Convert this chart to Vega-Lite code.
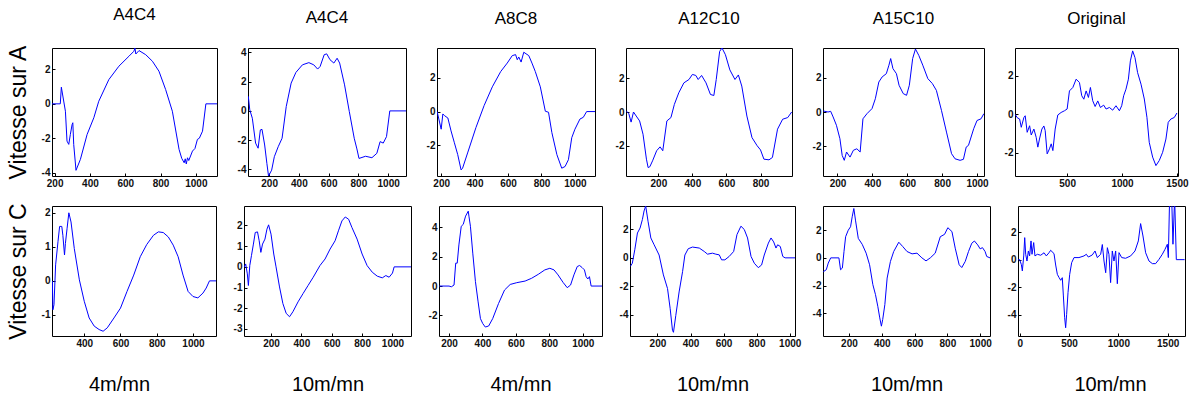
{
"$schema": "https://vega.github.io/schema/vega-lite/v6.json",
"background": "white",
"padding": {"left": 6, "top": 5, "right": 0, "bottom": 0},
"datasets": {
"a1": [{"x":185,"y":0},{"x":232,"y":0},{"x":238,"y":0.97},{"x":261,"y":-0.43},{"x":270,"y":-2.17},{"x":280,"y":-2.36},{"x":289,"y":-1.78},{"x":299,"y":-1.2},{"x":303,"y":-1.1},{"x":308,"y":-2.36},{"x":321,"y":-3.87},{"x":346,"y":-3.23},{"x":384,"y":-1.78},{"x":422,"y":-0.81},{"x":450,"y":0.15},{"x":507,"y":1.41},{"x":564,"y":2.19},{"x":621,"y":2.77},{"x":649,"y":3.06},{"x":655,"y":3.25},{"x":660,"y":2.9},{"x":678,"y":3.1},{"x":716,"y":2.86},{"x":754,"y":2.48},{"x":791,"y":1.9},{"x":829,"y":0.83},{"x":867,"y":-0.43},{"x":905,"y":-2.65},{"x":920,"y":-3.17},{"x":934,"y":-3.43},{"x":940,"y":-3.2},{"x":946,"y":-3.5},{"x":953,"y":-3.14},{"x":960,"y":-3.3},{"x":981,"y":-2.75},{"x":995,"y":-2.6},{"x":1009,"y":-2.07},{"x":1020,"y":-2.0},{"x":1038,"y":-1.59},{"x":1057,"y":0},{"x":1120,"y":0}],
"a2": [{"x":60,"y":1.0},{"x":70,"y":0.07},{"x":87,"y":-0.5},{"x":109,"y":-2.2},{"x":126,"y":-2.55},{"x":141,"y":-1.3},{"x":152,"y":-1.26},{"x":170,"y":-2.33},{"x":185,"y":-3.6},{"x":196,"y":-4.45},{"x":217,"y":-4.05},{"x":235,"y":-3.13},{"x":261,"y":-2.45},{"x":287,"y":-1.87},{"x":315,"y":0.3},{"x":348,"y":1.9},{"x":380,"y":2.63},{"x":424,"y":3.15},{"x":467,"y":3.3},{"x":500,"y":3.15},{"x":526,"y":2.86},{"x":543,"y":3.04},{"x":570,"y":3.84},{"x":587,"y":3.9},{"x":609,"y":3.5},{"x":635,"y":3.27},{"x":657,"y":3.6},{"x":674,"y":3.27},{"x":707,"y":1.78},{"x":739,"y":-0.05},{"x":772,"y":-1.87},{"x":790,"y":-2.6},{"x":804,"y":-3.25},{"x":848,"y":-3.1},{"x":891,"y":-3.2},{"x":924,"y":-2.9},{"x":946,"y":-2.1},{"x":967,"y":-2.2},{"x":989,"y":-1.76},{"x":1011,"y":0},{"x":1120,"y":0}],
"a3": [{"x":176,"y":0},{"x":186,"y":-0.44},{"x":200,"y":-1.04},{"x":210,"y":-0.14},{"x":220,"y":-0.24},{"x":240,"y":-0.38},{"x":259,"y":-1.14},{"x":279,"y":-1.84},{"x":299,"y":-2.54},{"x":319,"y":-3.44},{"x":328,"y":-3.34},{"x":358,"y":-2.44},{"x":408,"y":-0.94},{"x":457,"y":0.36},{"x":506,"y":1.46},{"x":556,"y":2.36},{"x":595,"y":2.86},{"x":625,"y":3.3},{"x":645,"y":3.36},{"x":655,"y":3.06},{"x":664,"y":3.22},{"x":678,"y":2.92},{"x":694,"y":3.5},{"x":724,"y":3.3},{"x":743,"y":2.86},{"x":763,"y":2.36},{"x":793,"y":1.46},{"x":823,"y":0.02},{"x":842,"y":-0.04},{"x":862,"y":-1.24},{"x":892,"y":-2.54},{"x":921,"y":-3.34},{"x":941,"y":-3.24},{"x":961,"y":-2.84},{"x":981,"y":-1.54},{"x":1000,"y":-1.04},{"x":1030,"y":-0.44},{"x":1050,"y":-0.34},{"x":1070,"y":0},{"x":1120,"y":0}],
"a4": [{"x":12,"y":0.05},{"x":26,"y":-0.08},{"x":40,"y":-0.6},{"x":54,"y":0},{"x":70,"y":-0.24},{"x":90,"y":-0.53},{"x":110,"y":-1.32},{"x":130,"y":-2.8},{"x":140,"y":-3.3},{"x":150,"y":-3.25},{"x":166,"y":-2.9},{"x":190,"y":-2.3},{"x":210,"y":-2.07},{"x":226,"y":-2.3},{"x":250,"y":-0.53},{"x":274,"y":-0.33},{"x":294,"y":0.45},{"x":320,"y":1.14},{"x":350,"y":1.73},{"x":380,"y":1.93},{"x":400,"y":2.23},{"x":420,"y":2.17},{"x":434,"y":1.93},{"x":454,"y":2.17},{"x":480,"y":1.73},{"x":506,"y":1.04},{"x":526,"y":0.98},{"x":540,"y":1.93},{"x":560,"y":3.6},{"x":574,"y":3.8},{"x":594,"y":3.4},{"x":620,"y":2.5},{"x":650,"y":1.93},{"x":670,"y":2.2},{"x":690,"y":1.54},{"x":720,"y":-0.24},{"x":750,"y":-1.52},{"x":780,"y":-2.0},{"x":800,"y":-2.25},{"x":820,"y":-2.8},{"x":850,"y":-2.84},{"x":870,"y":-2.7},{"x":900,"y":-1.02},{"x":930,"y":-0.43},{"x":960,"y":-0.33},{"x":983,"y":0}],
"a5": [{"x":119,"y":0.06},{"x":146,"y":0},{"x":161,"y":0.04},{"x":175,"y":-0.29},{"x":194,"y":-0.78},{"x":214,"y":-1.57},{"x":227,"y":-2.55},{"x":239,"y":-2.84},{"x":252,"y":-2.35},{"x":272,"y":-2.65},{"x":291,"y":-2.25},{"x":311,"y":-2.16},{"x":330,"y":-2.35},{"x":346,"y":-0.4},{"x":369,"y":-0.1},{"x":398,"y":0.2},{"x":417,"y":0.78},{"x":437,"y":1.76},{"x":456,"y":2.06},{"x":480,"y":2.25},{"x":495,"y":2.75},{"x":505,"y":3.14},{"x":518,"y":2.55},{"x":538,"y":2.25},{"x":553,"y":1.57},{"x":577,"y":1.08},{"x":596,"y":0.98},{"x":612,"y":1.57},{"x":631,"y":3.14},{"x":647,"y":3.7},{"x":666,"y":3.33},{"x":689,"y":2.75},{"x":718,"y":1.96},{"x":744,"y":1.67},{"x":767,"y":1.27},{"x":796,"y":0.1},{"x":825,"y":-1.18},{"x":854,"y":-2.45},{"x":874,"y":-2.75},{"x":903,"y":-2.84},{"x":922,"y":-2.78},{"x":938,"y":-2.06},{"x":951,"y":-1.96},{"x":981,"y":-0.98},{"x":1000,"y":-0.5},{"x":1023,"y":-0.4},{"x":1039,"y":-0.1}],
"a6": [{"x":27,"y":0},{"x":45,"y":-0.17},{"x":67,"y":-0.24},{"x":82,"y":-0.67},{"x":106,"y":-0.16},{"x":118,"y":-0.07},{"x":136,"y":-0.93},{"x":158,"y":-0.59},{"x":173,"y":-1.07},{"x":197,"y":-0.76},{"x":218,"y":-1.19},{"x":233,"y":-1.7},{"x":248,"y":-1.28},{"x":270,"y":-0.76},{"x":288,"y":-0.6},{"x":300,"y":-0.84},{"x":318,"y":-2.05},{"x":339,"y":-1.79},{"x":355,"y":-1.53},{"x":370,"y":-1.88},{"x":391,"y":-0.76},{"x":415,"y":-0.03},{"x":445,"y":0.1},{"x":476,"y":0.19},{"x":500,"y":0.28},{"x":521,"y":1.22},{"x":552,"y":1.4},{"x":582,"y":1.83},{"x":612,"y":1.66},{"x":633,"y":0.97},{"x":652,"y":0.79},{"x":673,"y":1.22},{"x":694,"y":0.88},{"x":712,"y":1.4},{"x":733,"y":0.71},{"x":755,"y":0.41},{"x":779,"y":0.7},{"x":803,"y":0.36},{"x":833,"y":0.48},{"x":855,"y":0.28},{"x":885,"y":0.36},{"x":915,"y":0.22},{"x":945,"y":0.45},{"x":976,"y":0.19},{"x":997,"y":0.45},{"x":1015,"y":0.97},{"x":1036,"y":1.31},{"x":1058,"y":1.83},{"x":1076,"y":2.78},{"x":1097,"y":3.3},{"x":1118,"y":2.95},{"x":1142,"y":2.17},{"x":1173,"y":1.57},{"x":1203,"y":0.8},{"x":1227,"y":-0.15},{"x":1248,"y":-1.45},{"x":1279,"y":-2.22},{"x":1309,"y":-2.66},{"x":1339,"y":-2.4},{"x":1370,"y":-1.97},{"x":1400,"y":-1.28},{"x":1421,"y":-0.41},{"x":1445,"y":-0.24},{"x":1476,"y":-0.16},{"x":1500,"y":0.07}],
"c1": [{"x":224,"y":0},{"x":227,"y":-0.85},{"x":233,"y":-0.7},{"x":242,"y":0.47},{"x":255,"y":1.15},{"x":264,"y":1.6},{"x":276,"y":1.6},{"x":282,"y":1.34},{"x":291,"y":0.76},{"x":296,"y":1.1},{"x":305,"y":1.53},{"x":315,"y":2.0},{"x":327,"y":1.73},{"x":345,"y":0.95},{"x":373,"y":0.03},{"x":400,"y":-0.6},{"x":427,"y":-1.09},{"x":455,"y":-1.33},{"x":482,"y":-1.43},{"x":504,"y":-1.48},{"x":527,"y":-1.38},{"x":564,"y":-1.09},{"x":600,"y":-0.8},{"x":636,"y":-0.31},{"x":673,"y":0.17},{"x":709,"y":0.71},{"x":745,"y":1.07},{"x":782,"y":1.34},{"x":809,"y":1.44},{"x":836,"y":1.42},{"x":864,"y":1.29},{"x":891,"y":1.05},{"x":918,"y":0.71},{"x":945,"y":0.17},{"x":973,"y":-0.31},{"x":1000,"y":-0.46},{"x":1027,"y":-0.5},{"x":1055,"y":-0.36},{"x":1073,"y":-0.21},{"x":1091,"y":0},{"x":1127,"y":0}],
"c2": [{"x":24,"y":0},{"x":33,"y":0.14},{"x":44,"y":-0.34},{"x":51,"y":-0.9},{"x":60,"y":0.06},{"x":71,"y":0.54},{"x":84,"y":1.1},{"x":96,"y":1.66},{"x":111,"y":1.69},{"x":122,"y":1.26},{"x":133,"y":0.7},{"x":144,"y":1.1},{"x":160,"y":1.34},{"x":173,"y":1.82},{"x":184,"y":2.03},{"x":200,"y":1.58},{"x":218,"y":0.62},{"x":233,"y":0},{"x":256,"y":-0.97},{"x":278,"y":-1.77},{"x":300,"y":-2.25},{"x":322,"y":-2.41},{"x":344,"y":-2.17},{"x":378,"y":-1.69},{"x":411,"y":-1.29},{"x":444,"y":-0.9},{"x":478,"y":-0.5},{"x":522,"y":0.06},{"x":556,"y":0.38},{"x":589,"y":0.86},{"x":622,"y":1.26},{"x":644,"y":1.74},{"x":667,"y":2.22},{"x":689,"y":2.41},{"x":711,"y":2.3},{"x":733,"y":1.9},{"x":767,"y":1.34},{"x":800,"y":0.62},{"x":833,"y":0.06},{"x":867,"y":-0.26},{"x":900,"y":-0.45},{"x":933,"y":-0.53},{"x":956,"y":-0.42},{"x":978,"y":-0.5},{"x":1000,"y":-0.3},{"x":1011,"y":0},{"x":1122,"y":0}],
"c3": [{"x":142,"y":0},{"x":200,"y":0},{"x":214,"y":-0.05},{"x":230,"y":0.07},{"x":240,"y":1.56},{"x":249,"y":1.56},{"x":259,"y":2.8},{"x":273,"y":4.07},{"x":285,"y":4.2},{"x":299,"y":4.76},{"x":315,"y":5.1},{"x":319,"y":4.76},{"x":328,"y":4.07},{"x":342,"y":2.24},{"x":358,"y":0.3},{"x":374,"y":-1.08},{"x":388,"y":-2.22},{"x":402,"y":-2.56},{"x":417,"y":-2.79},{"x":437,"y":-2.72},{"x":461,"y":-2.22},{"x":496,"y":-1.19},{"x":532,"y":-0.27},{"x":566,"y":0.11},{"x":605,"y":0.23},{"x":655,"y":0.34},{"x":694,"y":0.53},{"x":734,"y":0.8},{"x":773,"y":1.1},{"x":803,"y":1.21},{"x":828,"y":1.1},{"x":852,"y":0.76},{"x":882,"y":0.25},{"x":907,"y":-0.11},{"x":927,"y":0.07},{"x":947,"y":0.76},{"x":967,"y":1.33},{"x":981,"y":1.4},{"x":996,"y":1.26},{"x":1010,"y":1.1},{"x":1020,"y":0.64},{"x":1030,"y":0.48},{"x":1040,"y":0.64},{"x":1050,"y":0},{"x":1115,"y":0}],
"c4": [{"x":36,"y":-0.6},{"x":48,"y":-0.38},{"x":63,"y":0.57},{"x":79,"y":1.75},{"x":95,"y":2.1},{"x":109,"y":2.7},{"x":119,"y":3.3},{"x":129,"y":3.65},{"x":143,"y":2.58},{"x":160,"y":1.4},{"x":180,"y":0.92},{"x":210,"y":0.2},{"x":236,"y":-1.2},{"x":261,"y":-2.16},{"x":277,"y":-3.58},{"x":291,"y":-5.1},{"x":297,"y":-5.24},{"x":311,"y":-4.05},{"x":331,"y":-2.4},{"x":352,"y":-0.97},{"x":366,"y":0.2},{"x":386,"y":0.64},{"x":412,"y":0.76},{"x":453,"y":0.69},{"x":483,"y":0.45},{"x":503,"y":0.26},{"x":533,"y":0.33},{"x":553,"y":0.26},{"x":574,"y":0.21},{"x":588,"y":-0.14},{"x":608,"y":-0.14},{"x":634,"y":0.1},{"x":661,"y":0.45},{"x":681,"y":1.64},{"x":705,"y":2.23},{"x":725,"y":2.0},{"x":745,"y":1.4},{"x":766,"y":0.1},{"x":786,"y":-0.38},{"x":810,"y":-0.69},{"x":830,"y":-0.5},{"x":846,"y":0.2},{"x":871,"y":1.04},{"x":887,"y":1.4},{"x":903,"y":1.12},{"x":917,"y":0.69},{"x":927,"y":0.92},{"x":943,"y":0.8},{"x":958,"y":0.1},{"x":972,"y":0},{"x":1032,"y":0}],
"c5": [{"x":44,"y":-1.0},{"x":62,"y":-0.86},{"x":74,"y":-0.38},{"x":89,"y":0},{"x":139,"y":0},{"x":149,"y":-0.86},{"x":160,"y":-0.74},{"x":170,"y":0.46},{"x":180,"y":1.53},{"x":196,"y":2.0},{"x":210,"y":2.25},{"x":220,"y":2.97},{"x":230,"y":3.57},{"x":240,"y":2.73},{"x":257,"y":1.41},{"x":281,"y":0.98},{"x":305,"y":0.34},{"x":326,"y":-0.5},{"x":346,"y":-1.94},{"x":362,"y":-2.66},{"x":376,"y":-3.5},{"x":388,"y":-4.34},{"x":398,"y":-4.94},{"x":406,"y":-4.46},{"x":419,"y":-3.38},{"x":433,"y":-1.46},{"x":453,"y":-0.26},{"x":473,"y":0.46},{"x":504,"y":1.13},{"x":528,"y":0.82},{"x":554,"y":0.46},{"x":585,"y":0.29},{"x":615,"y":0.34},{"x":645,"y":0},{"x":670,"y":-0.22},{"x":696,"y":0},{"x":726,"y":0.34},{"x":757,"y":1.53},{"x":783,"y":1.7},{"x":803,"y":2.18},{"x":828,"y":1.9},{"x":848,"y":0.7},{"x":872,"y":-0.5},{"x":888,"y":-0.7},{"x":909,"y":-0.26},{"x":929,"y":0.46},{"x":949,"y":1.06},{"x":965,"y":1.22},{"x":985,"y":0.94},{"x":1000,"y":0.65},{"x":1014,"y":0.74},{"x":1030,"y":0.46},{"x":1040,"y":0.1},{"x":1060,"y":0}],
"c6": [{"x":-15,"y":0},{"x":0,"y":0},{"x":17,"y":-0.36},{"x":27,"y":-0.82},{"x":41,"y":0.27},{"x":51,"y":1.6},{"x":61,"y":0.39},{"x":74,"y":-0.1},{"x":88,"y":0.63},{"x":101,"y":0.27},{"x":115,"y":1.36},{"x":125,"y":0.39},{"x":142,"y":1.24},{"x":155,"y":0.27},{"x":179,"y":0.39},{"x":213,"y":0.32},{"x":247,"y":0.5},{"x":270,"y":0.27},{"x":297,"y":0.5},{"x":314,"y":0.68},{"x":348,"y":0.44},{"x":365,"y":-0.39},{"x":382,"y":-1.07},{"x":399,"y":-1.3},{"x":416,"y":-1.5},{"x":432,"y":-1.31},{"x":443,"y":-2.64},{"x":456,"y":-4.22},{"x":466,"y":-4.95},{"x":476,"y":-3.98},{"x":490,"y":-2.4},{"x":507,"y":-1.07},{"x":527,"y":-0.22},{"x":551,"y":0.15},{"x":601,"y":0.15},{"x":652,"y":0.27},{"x":676,"y":0.39},{"x":696,"y":0.19},{"x":736,"y":0.34},{"x":764,"y":0.63},{"x":787,"y":0.15},{"x":821,"y":0.39},{"x":838,"y":1.1},{"x":855,"y":-0.1},{"x":872,"y":-0.95},{"x":889,"y":0.87},{"x":905,"y":0.39},{"x":922,"y":-1.67},{"x":939,"y":0.63},{"x":956,"y":-0.1},{"x":973,"y":0.63},{"x":990,"y":-1.75},{"x":1007,"y":0.51},{"x":1034,"y":0.15},{"x":1074,"y":0.1},{"x":1125,"y":0.27},{"x":1169,"y":0.63},{"x":1203,"y":1.36},{"x":1226,"y":2.62},{"x":1250,"y":1.72},{"x":1277,"y":0.5},{"x":1311,"y":-0.1},{"x":1345,"y":-0.29},{"x":1378,"y":-0.29},{"x":1412,"y":0.02},{"x":1446,"y":0.39},{"x":1473,"y":0.75},{"x":1497,"y":1.12},{"x":1507,"y":0.15},{"x":1520,"y":4.5},{"x":1541,"y":4.5},{"x":1554,"y":1.12},{"x":1571,"y":4.5},{"x":1588,"y":0},{"x":1672,"y":0}]
},
"vconcat": [
{"hconcat": [
{"width":165,"height":128,"title":"A4C4","data":{"name":"a1"},"mark":{"type":"line","color":"#0000ff","strokeWidth":1,"clip":true},
 "encoding":{"x":{"field":"x","type":"quantitative","scale":{"domain":[185,1120],"nice":false,"zero":false},"axis":{"values":[200,400,600,800,1000],"title":null}},
 "y":{"field":"y","type":"quantitative","scale":{"domain":[-4.2,3.25],"nice":false,"zero":false},"axis":{"values":[-4,-2,0,2],"title":"Vitesse sur A","minExtent":18,"maxExtent":18}}}},
{"width":158,"height":128,"title":"A4C4","data":{"name":"a2"},"mark":{"type":"line","color":"#0000ff","strokeWidth":1,"clip":true},
 "encoding":{"x":{"field":"x","type":"quantitative","scale":{"domain":[58,1120],"nice":false,"zero":false},"axis":{"values":[200,400,600,800,1000],"title":null}},
 "y":{"field":"y","type":"quantitative","scale":{"domain":[-4.45,4.3],"nice":false,"zero":false},"axis":{"values":[-4,-2,0,2,4],"title":null}}}},
{"width":158,"height":128,"title":"A8C8","data":{"name":"a3"},"mark":{"type":"line","color":"#0000ff","strokeWidth":1,"clip":true},
 "encoding":{"x":{"field":"x","type":"quantitative","scale":{"domain":[175,1120],"nice":false,"zero":false},"axis":{"values":[200,400,600,800,1000],"title":null}},
 "y":{"field":"y","type":"quantitative","scale":{"domain":[-3.8,3.75],"nice":false,"zero":false},"axis":{"values":[-2,0,2],"title":null}}}},
{"width":166,"height":128,"title":"A12C10","data":{"name":"a4"},"mark":{"type":"line","color":"#0000ff","strokeWidth":1,"clip":true},
 "encoding":{"x":{"field":"x","type":"quantitative","scale":{"domain":[10,985],"nice":false,"zero":false},"axis":{"values":[200,400,600,800],"title":null}},
 "y":{"field":"y","type":"quantitative","scale":{"domain":[-3.8,3.8],"nice":false,"zero":false},"axis":{"values":[-2,0,2],"title":null}}}},
{"width":161,"height":128,"title":"A15C10","data":{"name":"a5"},"mark":{"type":"line","color":"#0000ff","strokeWidth":1,"clip":true},
 "encoding":{"x":{"field":"x","type":"quantitative","scale":{"domain":[117,1040],"nice":false,"zero":false},"axis":{"values":[200,400,600,800,1000],"title":null}},
 "y":{"field":"y","type":"quantitative","scale":{"domain":[-3.76,3.76],"nice":false,"zero":false},"axis":{"values":[-2,0,2],"title":null}}}},
{"width":163,"height":128,"title":"Original","data":{"name":"a6"},"mark":{"type":"line","color":"#0000ff","strokeWidth":1,"clip":true},
 "encoding":{"x":{"field":"x","type":"quantitative","scale":{"domain":[25,1510],"nice":false,"zero":false},"axis":{"values":[500,1000,1500],"title":null}},
 "y":{"field":"y","type":"quantitative","scale":{"domain":[-3.2,3.45],"nice":false,"zero":false},"axis":{"values":[-2,0,2],"title":null}}}}
], "spacing": 31, "bounds": "flush"},
{"hconcat": [
{"width":164,"height":130,"data":{"name":"c1"},"mark":{"type":"line","color":"#0000ff","strokeWidth":1,"clip":true},
 "encoding":{"x":{"field":"x","type":"quantitative","scale":{"domain":[222,1127],"nice":false,"zero":false},"axis":{"values":[400,600,800,1000],"title":"4m/mn","titleX":67,"titleAlign":"center"}},
 "y":{"field":"y","type":"quantitative","scale":{"domain":[-1.62,2.2],"nice":false,"zero":false},"axis":{"values":[-1,0,1,2],"title":"Vitesse sur C","minExtent":18,"maxExtent":18}}}},
{"width":167,"height":130,"data":{"name":"c2"},"mark":{"type":"line","color":"#0000ff","strokeWidth":1,"clip":true},
 "encoding":{"x":{"field":"x","type":"quantitative","scale":{"domain":[22,1122],"nice":false,"zero":false},"axis":{"values":[200,400,600,800,1000],"title":"10m/mn"}},
 "y":{"field":"y","type":"quantitative","scale":{"domain":[-3.34,2.94],"nice":false,"zero":false},"axis":{"values":[-3,-2,-1,0,1,2],"title":null}}}},
{"width":163,"height":130,"data":{"name":"c3"},"mark":{"type":"line","color":"#0000ff","strokeWidth":1,"clip":true},
 "encoding":{"x":{"field":"x","type":"quantitative","scale":{"domain":[140,1115],"nice":false,"zero":false},"axis":{"values":[200,400,600,800,1000],"title":"4m/mn"}},
 "y":{"field":"y","type":"quantitative","scale":{"domain":[-3.4,5.45],"nice":false,"zero":false},"axis":{"values":[-2,0,2,4],"title":null}}}},
{"width":165,"height":130,"data":{"name":"c4"},"mark":{"type":"line","color":"#0000ff","strokeWidth":1,"clip":true},
 "encoding":{"x":{"field":"x","type":"quantitative","scale":{"domain":[34,1032],"nice":false,"zero":false},"axis":{"values":[200,400,600,800,1000],"title":"10m/mn"}},
 "y":{"field":"y","type":"quantitative","scale":{"domain":[-5.5,3.65],"nice":false,"zero":false},"axis":{"values":[-4,-2,0,2],"title":null}}}},
{"width":167,"height":130,"data":{"name":"c5"},"mark":{"type":"line","color":"#0000ff","strokeWidth":1,"clip":true},
 "encoding":{"x":{"field":"x","type":"quantitative","scale":{"domain":[42,1060],"nice":false,"zero":false},"axis":{"values":[200,400,600,800,1000],"title":"10m/mn"}},
 "y":{"field":"y","type":"quantitative","scale":{"domain":[-5.65,3.75],"nice":false,"zero":false},"axis":{"values":[-4,-2,0,2],"title":null}}}},
{"width":167,"height":130,"data":{"name":"c6"},"mark":{"type":"line","color":"#0000ff","strokeWidth":1,"clip":true},
 "encoding":{"x":{"field":"x","type":"quantitative","scale":{"domain":[-17,1676],"nice":false,"zero":false},"axis":{"values":[0,500,1000,1500],"title":"10m/mn","titleX":92,"titleAlign":"center"}},
 "y":{"field":"y","type":"quantitative","scale":{"domain":[-5.55,3.9],"nice":false,"zero":false},"axis":{"values":[-4,-2,0,2],"title":null}}}}
], "spacing": 28, "bounds": "flush"}
],
"spacing": 13,
"config": {
 "view": {"stroke": "#000000", "strokeWidth": 1},
 "axis": {"ticks": true, "tickSize": -3, "tickColor": "#000000", "domain": false, "grid": false, "labelFont": "Liberation Sans", "labelFontSize": 10, "labelFontWeight": "bold", "labelColor": "#111111", "labelPadding": 5, "labelExpr": "''+datum.value", "labelOverlap": false, "labelFlush": false, "labelBound": false, "titleFont": "Liberation Sans", "titleFontWeight": "normal", "titleColor": "#000000"},
 "axisY": {"titleFontSize": 23, "titlePadding": 4},
 "axisX": {"titleFontSize": 20, "titlePadding": 26},
 "title": {"font": "Liberation Sans", "fontSize": 17, "fontWeight": "normal", "offset": 20, "color": "#000000", "frame": "group"}
}
}
